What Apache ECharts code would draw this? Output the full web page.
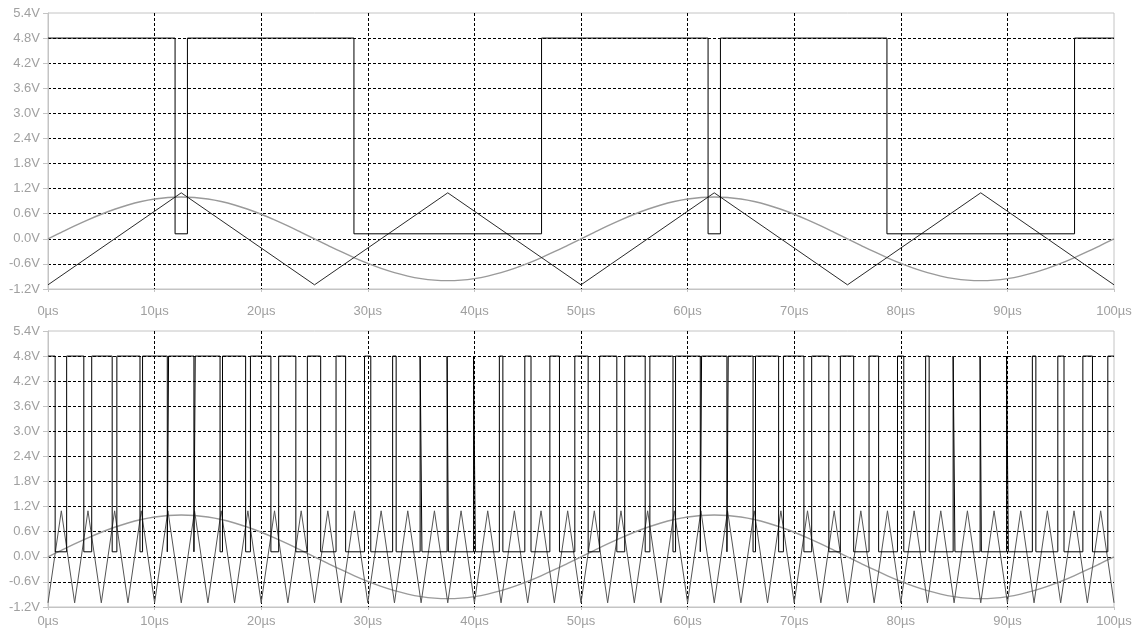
<!DOCTYPE html>
<html>
<head>
<meta charset="utf-8">
<script src="https://cdn.jsdelivr.net/npm/echarts@6/dist/echarts.min.js"></script>
<style>
html,body{margin:0;padding:0;background:#fff;}
#chart{width:1143px;height:630px;}
</style>
</head>
<body>
<div id="chart"></div>
<script>
// ---- tick labels ----
const xTicks = [0, 10, 20, 30, 40, 50, 60, 70, 80, 90, 100];           // µs
const yTicks = [-1.2, -0.6, 0.0, 0.6, 1.2, 1.8, 2.4, 3.0, 3.6, 4.2, 4.8, 5.4]; // V

// ---- sample times (µs) for sine and fast triangle ----
const tSamples = [0,1.25,2.5,3.75,5,6.25,7.5,8.75,10,11.25,12.5,13.75,15,16.25,17.5,18.75,20,21.25,22.5,23.75,
  25,26.25,27.5,28.75,30,31.25,32.5,33.75,35,36.25,37.5,38.75,40,41.25,42.5,43.75,45,46.25,47.5,48.75,
  50,51.25,52.5,53.75,55,56.25,57.5,58.75,60,61.25,62.5,63.75,65,66.25,67.5,68.75,70,71.25,72.5,73.75,
  75,76.25,77.5,78.75,80,81.25,82.5,83.75,85,86.25,87.5,88.75,90,91.25,92.5,93.75,95,96.25,97.5,98.75,100];

// sine reference (V)
const sineValues = [0,0.156,0.309,0.454,0.588,0.707,0.809,0.891,0.951,0.988,1,0.988,0.951,0.891,0.809,0.707,0.588,0.454,0.309,0.156,
  0,-0.156,-0.309,-0.454,-0.588,-0.707,-0.809,-0.891,-0.951,-0.988,-1,-0.988,-0.951,-0.891,-0.809,-0.707,-0.588,-0.454,-0.309,-0.156,
  0,0.156,0.309,0.454,0.588,0.707,0.809,0.891,0.951,0.988,1,0.988,0.951,0.891,0.809,0.707,0.588,0.454,0.309,0.156,
  0,-0.156,-0.309,-0.454,-0.588,-0.707,-0.809,-0.891,-0.951,-0.988,-1,-0.988,-0.951,-0.891,-0.809,-0.707,-0.588,-0.454,-0.309,-0.156,0];

// fast carrier triangle (bottom panel), vertices at tSamples
const triFastValues = [-1.1,1.1,-1.1,1.1,-1.1,1.1,-1.1,1.1,-1.1,1.1,-1.1,1.1,-1.1,1.1,-1.1,1.1,-1.1,1.1,-1.1,1.1,
  -1.1,1.1,-1.1,1.1,-1.1,1.1,-1.1,1.1,-1.1,1.1,-1.1,1.1,-1.1,1.1,-1.1,1.1,-1.1,1.1,-1.1,1.1,
  -1.1,1.1,-1.1,1.1,-1.1,1.1,-1.1,1.1,-1.1,1.1,-1.1,1.1,-1.1,1.1,-1.1,1.1,-1.1,1.1,-1.1,1.1,
  -1.1,1.1,-1.1,1.1,-1.1,1.1,-1.1,1.1,-1.1,1.1,-1.1,1.1,-1.1,1.1,-1.1,1.1,-1.1,1.1,-1.1,1.1,-1.1];

// slow carrier triangle (top panel)
const triSlowTimes  = [0, 12.5, 25, 37.5, 50, 62.5, 75, 87.5, 100];
const triSlowValues = [-1.1, 1.1, -1.1, 1.1, -1.1, 1.1, -1.1, 1.1, -1.1];

// comparator output levels (V)
const pwmHigh = 4.8;
const pwmLow = 0.12;

// top panel: low intervals (µs)
const pwmTopLowStart = [11.92, 28.70, 61.92, 78.70];
const pwmTopLowEnd   = [13.08, 46.30, 63.08, 96.30];

// bottom panel: low intervals (µs)
const pwmBotLowStart = [0.67,3.36,6.02,8.63,11.19,13.69,16.14,18.54,20.91,23.25,
  25.58,27.92,30.28,32.66,35.08,37.56,40.09,42.67,45.31,47.98,
  50.67,53.36,56.02,58.63,61.19,63.69,66.14,68.54,70.91,73.25,
  75.58,77.92,80.28,82.66,85.08,87.56,90.09,92.67,95.31,97.98];
const pwmBotLowEnd = [1.75,4.10,6.46,8.87,11.31,13.81,16.37,18.99,21.64,24.33,
  27.02,29.69,32.33,34.91,37.44,39.92,42.34,44.73,47.08,49.42,
  51.75,54.10,56.46,58.87,61.31,63.81,66.37,68.99,71.64,74.33,
  77.02,79.69,82.33,84.91,87.44,89.92,92.34,94.73,97.08,99.42];

// ---- build series data ----
function pairs(ts, vs){ return ts.map((t,i)=>[t, vs[i]]); }
function pwmData(starts, ends){
  const d = [[0, pwmHigh]];
  for (let i = 0; i < starts.length; i++){
    d.push([starts[i], pwmLow]);
    d.push([ends[i], pwmHigh]);
  }
  d.push([100, pwmHigh]);
  return d;
}

const LABEL_COLOR = '#a0a0a0';
const FRAME_COLOR = '#c4c4c4';
const FONT = 'Liberation Sans';

function xAxisCfg(gridIndex, margin){
  return {
    type: 'value', gridIndex: gridIndex, min: xTicks[0], max: xTicks[xTicks.length-1], interval: 10,
    axisLine: {show: true, onZero: false, lineStyle: {color: FRAME_COLOR, width: 1}},
    axisTick: {show: true, length: 3, lineStyle: {color: FRAME_COLOR}},
    axisLabel: {color: LABEL_COLOR, fontSize: 13, fontFamily: FONT, margin: margin,
      formatter: v => Math.round(v) + 'µs'},
    splitLine: {show: true, showMinLine: false, showMaxLine: false,
      lineStyle: {color: '#000', width: 1, type: [3, 2]}}
  };
}
function yAxisCfg(gridIndex){
  return {
    type: 'value', gridIndex: gridIndex, min: yTicks[0], max: yTicks[yTicks.length-1], interval: 0.6,
    axisLine: {show: true, onZero: false, lineStyle: {color: FRAME_COLOR, width: 1}},
    axisTick: {show: true, length: 5, lineStyle: {color: FRAME_COLOR}},
    axisLabel: {color: LABEL_COLOR, fontSize: 13, fontFamily: FONT, margin: 8,
      formatter: v => (Math.abs(v) < 1e-9 ? '0.0' : v.toFixed(1)) + 'V'},
    splitLine: {show: true, showMinLine: false, showMaxLine: false,
      lineStyle: {color: '#000', width: 1, type: [3, 2]}}
  };
}

const sineStyle = {color: '#9a9a9a', width: 1.4};
const triTopStyle = {color: '#2a2a2a', width: 1};
const triBotStyle = {color: '#555555', width: 1};
const pwmStyle = {color: '#000', width: 1};

const option = {
  backgroundColor: '#fff',
  animation: false,
  grid: [
    {left: 48, top: 13, width: 1066, height: 276, show: true, borderColor: FRAME_COLOR, borderWidth: 1, backgroundColor: 'transparent'},
    {left: 48, top: 331, width: 1066, height: 276, show: true, borderColor: FRAME_COLOR, borderWidth: 1, backgroundColor: 'transparent'}
  ],
  xAxis: [xAxisCfg(0, 16), xAxisCfg(1, 8)],
  yAxis: [yAxisCfg(0), yAxisCfg(1)],
  series: [
    {type: 'line', xAxisIndex: 0, yAxisIndex: 0, data: pairs(tSamples, sineValues), smooth: 0.4,
      showSymbol: false, lineStyle: sineStyle, z: 2},
    {type: 'line', xAxisIndex: 0, yAxisIndex: 0, data: pairs(triSlowTimes, triSlowValues),
      showSymbol: false, lineStyle: triTopStyle, z: 3},
    {type: 'line', xAxisIndex: 0, yAxisIndex: 0, data: pwmData(pwmTopLowStart, pwmTopLowEnd), step: 'end',
      showSymbol: false, lineStyle: pwmStyle, z: 4},
    {type: 'line', xAxisIndex: 1, yAxisIndex: 1, data: pairs(tSamples, sineValues), smooth: 0.4,
      showSymbol: false, lineStyle: sineStyle, z: 2},
    {type: 'line', xAxisIndex: 1, yAxisIndex: 1, data: pairs(tSamples, triFastValues),
      showSymbol: false, lineStyle: triBotStyle, z: 3},
    {type: 'line', xAxisIndex: 1, yAxisIndex: 1, data: pwmData(pwmBotLowStart, pwmBotLowEnd), step: 'end',
      showSymbol: false, lineStyle: pwmStyle, z: 4}
  ]
};

const chart = echarts.init(document.getElementById('chart'), null, {renderer: 'canvas'});
chart.setOption(option);
</script>
</body>
</html>
